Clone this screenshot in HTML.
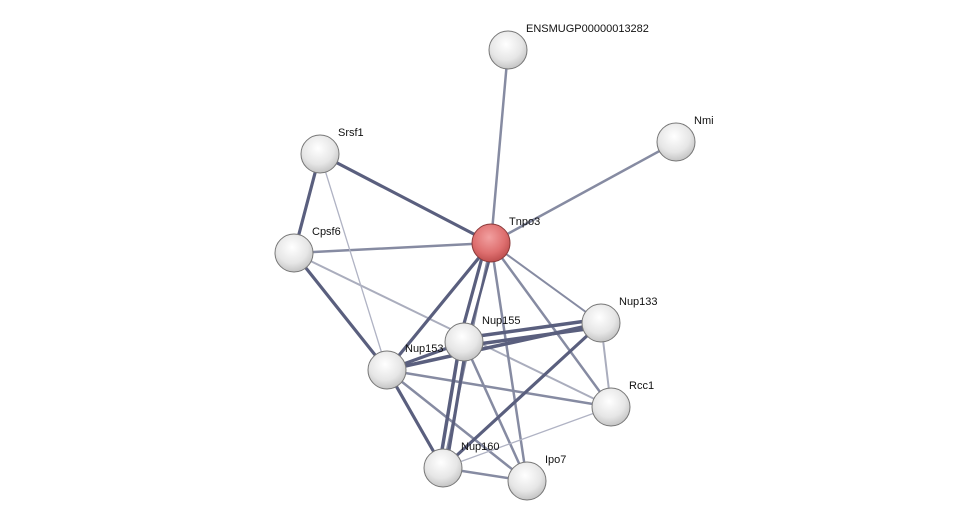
<!DOCTYPE html>
<html><head><style>
html,body{margin:0;padding:0;background:#fff;}
svg{display:block}
text{font-family:"Liberation Sans",sans-serif;font-size:11px;fill:#111}
</style></head><body>
<svg width="975" height="526" viewBox="0 0 975 526" xmlns="http://www.w3.org/2000/svg">
<defs>
<radialGradient id="g" cx="0.45" cy="0.35" r="0.7">
<stop offset="0" stop-color="#ffffff"/><stop offset="0.6" stop-color="#e6e6e6"/><stop offset="1" stop-color="#bdbdbd"/>
</radialGradient>
<radialGradient id="r" cx="0.45" cy="0.35" r="0.7">
<stop offset="0" stop-color="#f2a0a0"/><stop offset="0.6" stop-color="#de6f6f"/><stop offset="1" stop-color="#b84848"/>
</radialGradient>
</defs>
<g stroke-linecap="round">
<g stroke="#7a7f98" stroke-width="2.5" opacity="0.9">
<line x1="491" y1="243" x2="508" y2="50"/>
<line x1="491" y1="243" x2="676" y2="142"/>
<line x1="491" y1="243" x2="294" y2="253"/>
<line x1="491" y1="243" x2="601" y2="323" stroke-width="2"/>
<line x1="491" y1="243" x2="611" y2="407"/>
<line x1="491" y1="243" x2="527" y2="481"/>
<line x1="491" y1="243" x2="443" y2="468" stroke-width="2"/>
<line x1="601" y1="323" x2="611" y2="407" stroke-width="2" opacity="0.7"/>
<line x1="387" y1="370" x2="611" y2="407"/>
<line x1="294" y1="253" x2="611" y2="407" stroke-width="2" opacity="0.7"/>
<line x1="464" y1="342" x2="527" y2="481"/>
<line x1="387" y1="370" x2="527" y2="481"/>
<line x1="443" y1="468" x2="527" y2="481"/>
</g>
<g stroke="#5a5f7e" stroke-width="3.2">
<line x1="491" y1="243" x2="320" y2="154"/>
<line x1="320" y1="154" x2="294" y2="253"/>
<line x1="294" y1="253" x2="387" y2="370"/>
<line x1="491" y1="243" x2="387" y2="370"/>
<line x1="486" y1="243" x2="459" y2="342"/>
<line x1="494" y1="243" x2="467" y2="342" stroke-width="2.5"/>
<line x1="464" y1="338" x2="601" y2="319" stroke-width="3.5"/>
<line x1="464" y1="346" x2="601" y2="327" stroke-width="3.5"/>
<line x1="387" y1="370" x2="601" y2="323" stroke-width="3.5"/>
<line x1="387" y1="370" x2="464" y2="342"/>
<line x1="460" y1="342" x2="439" y2="468" stroke-width="3.5"/>
<line x1="467" y1="342" x2="446" y2="468"/>
<line x1="387" y1="370" x2="443" y2="468"/>
<line x1="601" y1="323" x2="443" y2="468"/>
</g>
<g stroke="#b0b3c4" stroke-width="1.3">
<line x1="320" y1="154" x2="387" y2="370"/>
<line x1="443" y1="468" x2="611" y2="407"/>
</g>
</g>
<g stroke="#777" stroke-width="1">
<circle cx="508" cy="50" r="19" fill="url(#g)"/>
<circle cx="676" cy="142" r="19" fill="url(#g)"/>
<circle cx="320" cy="154" r="19" fill="url(#g)"/>
<circle cx="294" cy="253" r="19" fill="url(#g)"/>
<circle cx="601" cy="323" r="19" fill="url(#g)"/>
<circle cx="464" cy="342" r="19" fill="url(#g)"/>
<circle cx="387" cy="370" r="19" fill="url(#g)"/>
<circle cx="611" cy="407" r="19" fill="url(#g)"/>
<circle cx="443" cy="468" r="19" fill="url(#g)"/>
<circle cx="527" cy="481" r="19" fill="url(#g)"/>
<circle cx="491" cy="243" r="19" fill="url(#r)" stroke="#8a3a3a"/>
</g>
<text x="526" y="32">ENSMUGP00000013282</text>
<text x="694" y="124">Nmi</text>
<text x="338" y="136">Srsf1</text>
<text x="312" y="235">Cpsf6</text>
<text x="509" y="225">Tnpo3</text>
<text x="619" y="305">Nup133</text>
<text x="482" y="324">Nup155</text>
<text x="405" y="352">Nup153</text>
<text x="629" y="389">Rcc1</text>
<text x="461" y="450">Nup160</text>
<text x="545" y="463">Ipo7</text>
</svg>
</body></html>
